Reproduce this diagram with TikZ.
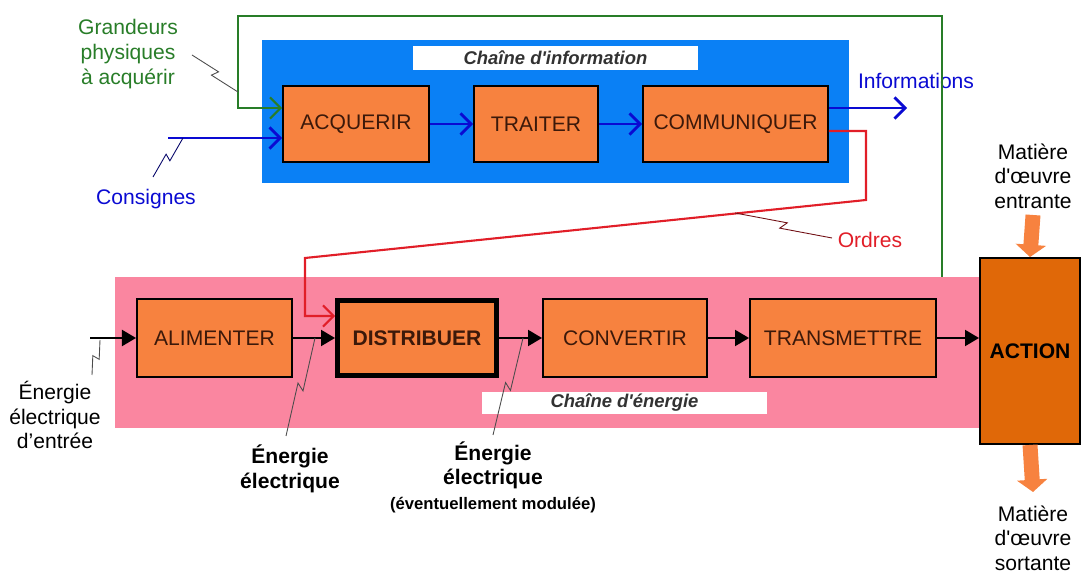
\documentclass[tikz,border=0pt]{standalone}
\usepackage{fontspec}
\setmainfont{Liberation Sans}
\usetikzlibrary{arrows.meta,calc}
\definecolor{bleuinfo}{RGB}{10,128,245}
\definecolor{roseenergie}{RGB}{250,134,160}
\definecolor{orangeboite}{RGB}{247,130,63}
\definecolor{orangeaction}{RGB}{224,104,8}
\definecolor{brunfonce}{RGB}{60,25,10}
\definecolor{vertcapteur}{RGB}{40,125,40}
\definecolor{bleufleche}{RGB}{10,10,210}
\definecolor{rougeordre}{RGB}{225,30,40}
\definecolor{gristitre}{RGB}{50,50,50}
\begin{document}
\begin{tikzpicture}[x=0.02cm, y=-0.02cm,
  boite/.style={draw=black, line width=1.1pt, fill=orangeboite, text=brunfonce, inner sep=0pt, font=\fontsize{12}{14}\selectfont},
  titre/.style={fill=white, inner sep=0pt, text=gristitre, font=\fontsize{10.5}{12}\selectfont\bfseries\itshape},
  legende/.style={align=center, inner sep=0pt, font=\fontsize{12}{14}\selectfont},
  bleuf/.style={draw=bleufleche, line width=1.6pt, -{Straight Barb[length=6pt,width=12pt]}},
  noirf/.style={draw=black, line width=1.5pt, -{Triangle[length=8pt,width=9pt]}},
  matiere/.style={draw=orangeboite, line width=8.5pt, -{Triangle[length=7pt,width=17pt]}},
  eclair/.style={draw=black!70, line width=0.5pt, to path={-- ($(\tikztostart)!0.53!(\tikztotarget)!2pt!90:(\tikztotarget)$) -- ($(\tikztostart)!0.47!(\tikztotarget)!2pt!-90:(\tikztotarget)$) -- (\tikztotarget)}}]
\useasboundingbox (0,0) rectangle (1081,573);
\fill[bleuinfo] (262,40) rectangle (849,183);
\fill[roseenergie] (115,277) rectangle (980,428);
\node[titre, minimum width=5.7cm, minimum height=0.48cm] (tinfo) at (555.5,58) {Chaîne d\textquotesingle information};
\node[titre, minimum width=5.7cm, minimum height=0.44cm] (tener) at (624.5,403) {Chaîne d\textquotesingle énergie};

\node[boite, minimum width=2.92cm, minimum height=1.52cm] (acq) at (356,124) {ACQUERIR};
\node[boite, minimum width=2.48cm, minimum height=1.52cm] (trait) at (536,124) {TRAITER};
\node[boite, minimum width=3.7cm, minimum height=1.52cm] (comm) at (735.5,124) {COMMUNIQUER};
\node[boite, minimum width=3.1cm, minimum height=1.56cm] (alim) at (214.5,338) {ALIMENTER};
\node[boite, line width=2.8pt, minimum width=3.18cm, minimum height=1.5cm, font=\fontsize{12}{14}\selectfont\bfseries] (dist) at (417,338) {DISTRIBUER};
\node[boite, minimum width=3.28cm, minimum height=1.56cm] (conv) at (625,338) {CONVERTIR};
\node[boite, minimum width=3.72cm, minimum height=1.56cm] (trans) at (843,338) {TRANSMETTRE};
\node[boite, fill=orangeaction, text=black, font=\fontsize{12}{14}\selectfont\bfseries, minimum width=2cm, minimum height=3.72cm] (action) at (1030,351) {ACTION};

\node[legende, text=vertcapteur] (grand) at (128,54) {Grandeurs\\physiques\\à acquérir};
\node[legende, text=bleufleche] (cons) at (146,199) {Consignes};
\node[legende, text=bleufleche] (infos) at (916,81) {Informations};
\node[legende, text=rougeordre] (ordres) at (870,240) {Ordres};
\node[legende] (ment) at (1033,176) {Matière\\d\textquotesingle œuvre\\entrante};
\node[legende] (msort) at (1033,538) {Matière\\d\textquotesingle œuvre\\sortante};
\node[legende] (eentree) at (55,415) {Énergie\\électrique\\d’entrée};
\node[legende, font=\fontsize{12}{14}\selectfont\bfseries] (eelec) at (290,469) {Énergie\\électrique};
\node[legende, font=\fontsize{12}{14}\selectfont\bfseries] (emod) at (493,477) {Énergie\\électrique\\{\fontsize{9.5}{11}\selectfont(éventuellement modulée)}};

\coordinate (cap) at (942,277);
\draw[vertcapteur, line width=1.2pt, -{Straight Barb[length=6pt,width=12pt]}] (cap) -- (942,16) -- (238,16) |- ([yshift=0.32cm]acq.west);
\coordinate (consd) at (168,138);
\draw[bleuf] (consd) -- (consd -| acq.west);
\draw[bleuf] (acq) -- (trait);
\draw[bleuf] (trait) -- (comm);
\coordinate (infod) at (907,108);
\draw[bleuf] (infod -| comm.east) -- (infod);
\draw[rougeordre, line width=1.2pt, -{Straight Barb[length=6pt,width=12pt]}] ([yshift=-0.14cm]comm.east) -| (866,200) -- (305,258) |- ([yshift=0.44cm]dist.west);

\coordinate (eind) at (90,338);
\draw[noirf] (eind) -- (alim);
\draw[noirf] (alim) -- (dist);
\draw[noirf] (dist) -- (conv);
\draw[noirf] (conv) -- (trans);
\draw[noirf] (trans) -- (trans -| action.west);

\coordinate (ment1) at (1033,215);
\coordinate (msort1) at (1033,492);
\draw[matiere] (ment1) -- (action.north);
\draw[matiere] (action.south) -- (msort1);

\coordinate (z1a) at (192,55);
\coordinate (z1b) at (238,92);
\draw[eclair] (z1a) to (z1b);
\coordinate (z2a) at (153,177);
\coordinate (z2b) at (183,138);
\draw[eclair, draw=bleufleche!50!black] (z2a) to (z2b);
\coordinate (z3a) at (832,238);
\coordinate (z3b) at (735,213);
\draw[eclair, draw=rougeordre!50!black] (z3a) to (z3b);
\coordinate (z4a) at (92,375);
\coordinate (z4b) at (100,340);
\draw[eclair] (z4a) to (z4b);
\coordinate (z5a) at (286,436);
\coordinate (z5b) at (315,338);
\draw[eclair] (z5a) to (z5b);
\coordinate (z6a) at (493,435);
\coordinate (z6b) at (523,338);
\draw[eclair] (z6a) to (z6b);
\end{tikzpicture}
\end{document}
